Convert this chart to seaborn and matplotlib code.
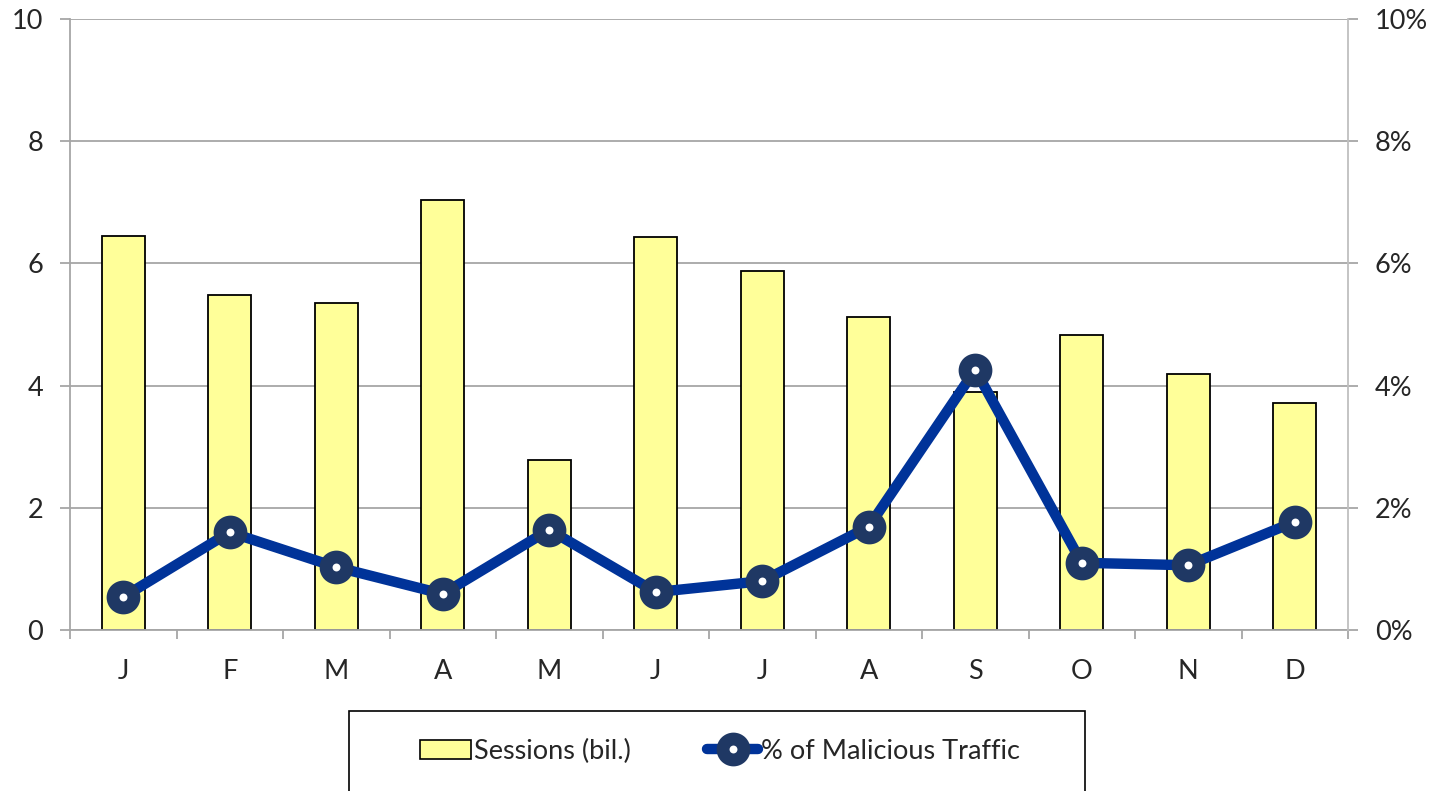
import numpy as np
import matplotlib
matplotlib.use("Agg")
import matplotlib.pyplot as plt
import seaborn as sns
from matplotlib.patches import Patch, Rectangle
from matplotlib.lines import Line2D
from matplotlib.ticker import FuncFormatter, MultipleLocator

months = ["Jan", "Feb", "Mar", "Apr", "May", "Jun", "Jul", "Aug", "Sep", "Oct", "Nov", "Dec"]
month_labels = ["J", "F", "M", "A", "M", "J", "J", "A", "S", "O", "N", "D"]
sessions = [6.45, 5.48, 5.35, 7.03, 2.78, 6.44, 5.88, 5.13, 3.90, 4.82, 4.19, 3.71]
malicious_pct = [0.54, 1.60, 1.03, 0.59, 1.64, 0.62, 0.80, 1.69, 4.26, 1.10, 1.06, 1.77]
series_names = ["Sessions (bil.)", "% of Malicious Traffic"]

sns.set_theme(style="white")
plt.rcParams["font.family"] = ["Lato", "DejaVu Sans"]

FS = 19.5
BAR_COLOR = "#FFFF99"
LINE_COLOR = "#003399"
MARKER_COLOR = "#1F3864"
GRID_COLOR = "#A6A6A6"

fig = plt.figure(figsize=(14.35, 7.91), dpi=100)
ax = fig.add_axes([70 / 1435, 1 - 630 / 791, (1348 - 70) / 1435, (630 - 19) / 791])

sns.barplot(x=months, y=sessions, color=BAR_COLOR, saturation=1, edgecolor="black",
            linewidth=1.3, width=0.4, ax=ax, zorder=2)
ax.set_ylim(0, 10)
ax.set_xlim(-0.5, len(months) - 0.5)
ax.yaxis.set_major_locator(MultipleLocator(2))
ax.set_axisbelow(True)
ax.grid(axis="y", color=GRID_COLOR, linewidth=1.3)
ax.grid(axis="x", visible=False)
ax.set_xlabel("")
ax.set_ylabel("")
ax.set_xticks(np.arange(len(months)))
ax.set_xticklabels(month_labels, fontsize=FS)
ax.set_xticks(np.arange(len(months) + 1) - 0.5, minor=True)
ax.tick_params(axis="x", which="major", length=0, pad=21)
ax.tick_params(axis="x", which="minor", length=6.5, width=1.3, color=GRID_COLOR, bottom=True)
ax.tick_params(axis="y", left=True, length=7.2, width=1.3, color=GRID_COLOR, labelsize=FS, pad=12)
for s in ["top", "right"]:
    ax.spines[s].set_visible(False)
for s in ["left", "bottom"]:
    ax.spines[s].set_color(GRID_COLOR)
    ax.spines[s].set_linewidth(1.3)

ax2 = ax.twinx()
sns.lineplot(x=np.arange(len(months)), y=malicious_pct, ax=ax2, color=LINE_COLOR,
             linewidth=7.5, marker="o", markersize=15, markerfacecolor="white",
             markeredgecolor=MARKER_COLOR, markeredgewidth=9.3, zorder=5)
ax2.set_ylim(0, 10)
ax2.yaxis.set_major_locator(MultipleLocator(2))
ax2.yaxis.set_major_formatter(FuncFormatter(lambda v, p: f"{v:.0f}%"))
ax2.tick_params(axis="y", right=True, length=7.2, width=1.3, color=GRID_COLOR, labelsize=FS, pad=12)
ax2.set_ylabel("")
ax2.grid(False)
for s in ["top", "left", "bottom"]:
    ax2.spines[s].set_visible(False)
ax2.spines["right"].set_color("#BFBFBF")
ax2.spines["right"].set_linewidth(1.3)

# legend
handles = [
    Patch(facecolor=BAR_COLOR, edgecolor="black", linewidth=1.2),
    Line2D([0], [0], color=LINE_COLOR, linewidth=7.5, marker="o", markersize=15,
           markerfacecolor="white", markeredgecolor=MARKER_COLOR, markeredgewidth=9.3),
]
fig.legend(handles, series_names, loc="center", bbox_to_anchor=(720 / 1435, 1 - 751 / 791),
           ncol=2, frameon=False, fontsize=FS, handlelength=1.9, handletextpad=0.1,
           columnspacing=2.8)
fig.add_artist(Rectangle((349 / 1435, -0.01), (1085 - 349) / 1435, 1 - 711 / 791 + 0.01,
                         transform=fig.transFigure, facecolor="none", edgecolor="black",
                         linewidth=1.2))

fig.savefig("out.png", dpi=100)
